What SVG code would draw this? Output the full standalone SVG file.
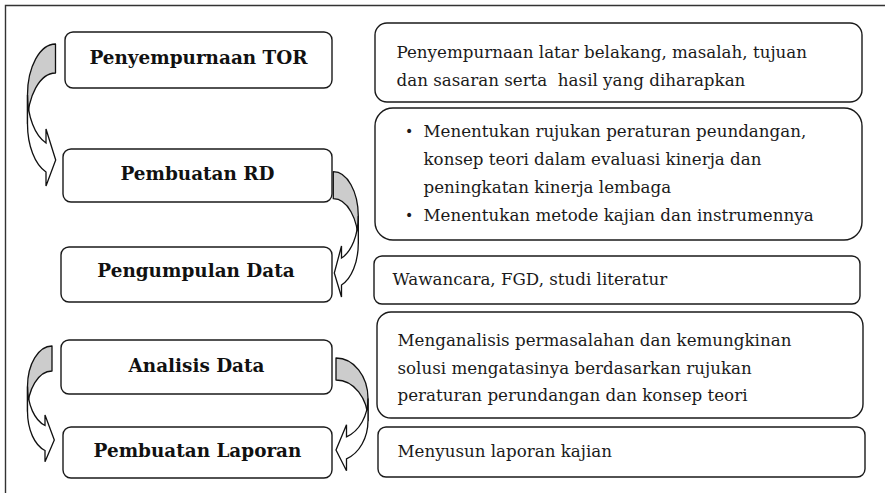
<svg xmlns="http://www.w3.org/2000/svg" width="885" height="493" viewBox="0 0 885 493">
<style>
.box{fill:#fff;stroke:#1a1a1a;stroke-width:1.4}
.lbl{font-family:"DejaVu Serif","Liberation Serif",serif;font-weight:bold;font-size:18.4px;fill:#111;text-anchor:middle}
.txt{font-family:"DejaVu Serif","Liberation Serif",serif;font-size:16.7px;fill:#1a1a1a}
.bul{font-family:"DejaVu Sans","Liberation Sans",sans-serif;font-size:14px;fill:#1a1a1a}
.back{fill:#cccccc;stroke:#111;stroke-width:1.3;stroke-linejoin:round}
.front{fill:#fff;stroke:#111;stroke-width:1.3;stroke-linejoin:miter}
.frame{stroke:#333;stroke-width:1.4;fill:none}
</style>
<rect width="885" height="493" fill="#fff"/>
<path class="frame" d="M5.5 493 V5.5 H885"/>
<g id="connectors">
  <g id="arrow1" transform="translate(55.5,44)">
    <path class="back" d="M0 0 A28 51 0 0 0 -28 51 L-28 80 A28 51 0 0 1 0 29 Z"/>
    <path class="front" d="M-28 51 A28 51 0 0 0 -9.5 99 L-9.5 85 L0.2 116 L-9.5 142 L-9.5 128 A28 51 0 0 1 -28 80 Z"/>
  </g>
  <g id="arrow2" transform="translate(333.3,171.7) scale(-1,1)">
    <path class="back" d="M0 0 A25 44.4 0 0 0 -25 44.4 L-25 71.4 A25 44.4 0 0 1 0 27 Z"/>
    <path class="front" d="M-25 44.4 A25 44.4 0 0 0 -8.2 86.3 L-8.2 74.3 L-1 101.3 L-8.2 125.3 L-8.2 113.3 A25 44.4 0 0 1 -25 71.4 Z"/>
  </g>
  <g id="arrow3" transform="translate(52,346)">
    <path class="back" d="M0 0 A24.5 40.6 0 0 0 -24.5 40.6 L-24.5 65.6 A24.5 40.6 0 0 1 0 25 Z"/>
    <path class="front" d="M-24.5 40.6 A24.5 40.6 0 0 0 -7 79.5 L-7 69 L2.3 94 L-7 115.7 L-7 104.5 A24.5 40.6 0 0 1 -24.5 65.6 Z"/>
  </g>
  <g id="arrow4" transform="translate(336,358) scale(-1,1)">
    <path class="back" d="M0 0 A32 40.5 0 0 0 -32 40.5 L-32 62.5 A32 40.5 0 0 1 0 22 Z"/>
    <path class="front" d="M-32 40.5 A32 40.5 0 0 0 -10.5 78.8 L-10.5 66.8 L0 92 L-10.5 112.7 L-10.5 100.8 A32 40.5 0 0 1 -32 62.5 Z"/>
  </g>
</g>
<g id="step1"><rect class="box" x="65" y="32" width="267" height="56" rx="8"/><text class="lbl" x="198.5" y="63.5">Penyempurnaan TOR</text></g>
<g id="step2"><rect class="box" x="63" y="149" width="269" height="53" rx="8"/><text class="lbl" x="197.5" y="180">Pembuatan RD</text></g>
<g id="step3"><rect class="box" x="61" y="247" width="271" height="55" rx="8"/><text class="lbl" x="196" y="276.5">Pengumpulan Data</text></g>
<g id="step4"><rect class="box" x="61" y="340" width="271" height="54" rx="8"/><text class="lbl" x="196.5" y="371.5">Analisis Data</text></g>
<g id="step5"><rect class="box" x="63" y="427" width="269" height="51" rx="8"/><text class="lbl" x="197.5" y="456.5">Pembuatan Laporan</text></g>
<g id="desc1"><rect class="box" x="375" y="23" width="487" height="79" rx="12"/>
<text class="txt" x="396.5" y="58">Penyempurnaan latar belakang, masalah, tujuan</text>
<text class="txt" x="396.5" y="86" xml:space="preserve">dan sasaran serta  hasil yang diharapkan</text></g>
<g id="desc2"><rect class="box" x="375" y="108" width="487" height="132" rx="18"/>
<text class="bul" x="405" y="135.5">•</text>
<text class="txt" x="423.5" y="136.5">Menentukan rujukan peraturan peundangan,</text>
<text class="txt" x="423.5" y="164.5">konsep teori dalam evaluasi kinerja dan</text>
<text class="txt" x="423.5" y="192.5">peningkatan kinerja lembaga</text>
<text class="bul" x="405" y="219.5">•</text>
<text class="txt" x="423.5" y="220.5">Menentukan metode kajian dan instrumennya</text></g>
<g id="desc3"><rect class="box" x="374" y="256" width="486" height="48" rx="8"/>
<text class="txt" x="392.5" y="285">Wawancara, FGD, studi literatur</text></g>
<g id="desc4"><rect class="box" x="377" y="312" width="486" height="106" rx="14"/>
<text class="txt" x="397.5" y="346">Menganalisis permasalahan dan kemungkinan</text>
<text class="txt" x="397.5" y="373.5">solusi mengatasinya berdasarkan rujukan</text>
<text class="txt" x="397.5" y="401">peraturan perundangan dan konsep teori</text></g>
<g id="desc5"><rect class="box" x="378" y="427" width="487" height="50" rx="8"/>
<text class="txt" x="397.5" y="456.5">Menyusun laporan kajian</text></g>
</svg>
